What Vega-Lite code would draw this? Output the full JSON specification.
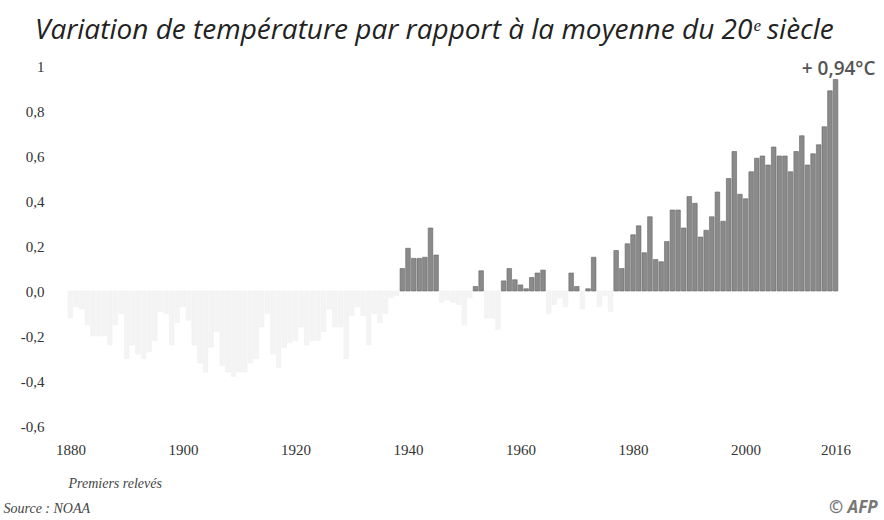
{
  "$schema": "https://vega.github.io/schema/vega-lite/v6.json",
  "width": 792,
  "height": 360,
  "autosize": {"type": "none"},
  "padding": {"left": 57, "top": 66, "right": 35, "bottom": 94},
  "background": "white",
  "config": {"view": {"stroke": null}},
  "title": {
    "text": "Variation de température par rapport à la moyenne du 20ᵉ siècle",
    "anchor": "start",
    "frame": "group",
    "dx": -22,
    "offset": 14,
    "font": "Open Sans",
    "fontStyle": "italic",
    "fontWeight": "normal",
    "fontSize": 28,
    "color": "#222222"
  },
  "data": {
    "values": [
      {"year": 1880, "value": -0.12}, {"year": 1881, "value": -0.07}, {"year": 1882, "value": -0.08}, {"year": 1883, "value": -0.15},
      {"year": 1884, "value": -0.2}, {"year": 1885, "value": -0.2}, {"year": 1886, "value": -0.2}, {"year": 1887, "value": -0.24},
      {"year": 1888, "value": -0.15}, {"year": 1889, "value": -0.1}, {"year": 1890, "value": -0.3}, {"year": 1891, "value": -0.24},
      {"year": 1892, "value": -0.28}, {"year": 1893, "value": -0.3}, {"year": 1894, "value": -0.27}, {"year": 1895, "value": -0.22},
      {"year": 1896, "value": -0.09}, {"year": 1897, "value": -0.1}, {"year": 1898, "value": -0.24}, {"year": 1899, "value": -0.14},
      {"year": 1900, "value": -0.07}, {"year": 1901, "value": -0.13}, {"year": 1902, "value": -0.24}, {"year": 1903, "value": -0.32},
      {"year": 1904, "value": -0.36}, {"year": 1905, "value": -0.25}, {"year": 1906, "value": -0.18}, {"year": 1907, "value": -0.33},
      {"year": 1908, "value": -0.36}, {"year": 1909, "value": -0.38}, {"year": 1910, "value": -0.36}, {"year": 1911, "value": -0.36},
      {"year": 1912, "value": -0.32}, {"year": 1913, "value": -0.3}, {"year": 1914, "value": -0.16}, {"year": 1915, "value": -0.1},
      {"year": 1916, "value": -0.28}, {"year": 1917, "value": -0.34}, {"year": 1918, "value": -0.25}, {"year": 1919, "value": -0.23},
      {"year": 1920, "value": -0.22}, {"year": 1921, "value": -0.16}, {"year": 1922, "value": -0.24}, {"year": 1923, "value": -0.22},
      {"year": 1924, "value": -0.22}, {"year": 1925, "value": -0.18}, {"year": 1926, "value": -0.08}, {"year": 1927, "value": -0.16},
      {"year": 1928, "value": -0.16}, {"year": 1929, "value": -0.3}, {"year": 1930, "value": -0.11}, {"year": 1931, "value": -0.07},
      {"year": 1932, "value": -0.11}, {"year": 1933, "value": -0.24}, {"year": 1934, "value": -0.1}, {"year": 1935, "value": -0.14},
      {"year": 1936, "value": -0.1}, {"year": 1937, "value": -0.03}, {"year": 1938, "value": -0.02},
      {"year": 1939, "value": 0.1}, {"year": 1940, "value": 0.19}, {"year": 1941, "value": 0.145}, {"year": 1942, "value": 0.145},
      {"year": 1943, "value": 0.15}, {"year": 1944, "value": 0.28}, {"year": 1945, "value": 0.16},
      {"year": 1946, "value": -0.05}, {"year": 1947, "value": -0.04}, {"year": 1948, "value": -0.05}, {"year": 1949, "value": -0.06},
      {"year": 1950, "value": -0.15}, {"year": 1951, "value": -0.03}, {"year": 1952, "value": 0.02}, {"year": 1953, "value": 0.09},
      {"year": 1954, "value": -0.12}, {"year": 1955, "value": -0.12}, {"year": 1956, "value": -0.17},
      {"year": 1957, "value": 0.045}, {"year": 1958, "value": 0.1}, {"year": 1959, "value": 0.05}, {"year": 1960, "value": 0.027},
      {"year": 1961, "value": 0.01}, {"year": 1962, "value": 0.06}, {"year": 1963, "value": 0.08}, {"year": 1964, "value": 0.093},
      {"year": 1965, "value": -0.1}, {"year": 1966, "value": -0.06}, {"year": 1967, "value": -0.03}, {"year": 1968, "value": -0.07},
      {"year": 1969, "value": 0.08}, {"year": 1970, "value": 0.02}, {"year": 1971, "value": -0.08}, {"year": 1972, "value": 0.01},
      {"year": 1973, "value": 0.15}, {"year": 1974, "value": -0.07}, {"year": 1975, "value": -0.02}, {"year": 1976, "value": -0.09},
      {"year": 1977, "value": 0.18}, {"year": 1978, "value": 0.1}, {"year": 1979, "value": 0.21}, {"year": 1980, "value": 0.25},
      {"year": 1981, "value": 0.29}, {"year": 1982, "value": 0.17}, {"year": 1983, "value": 0.33}, {"year": 1984, "value": 0.14},
      {"year": 1985, "value": 0.13}, {"year": 1986, "value": 0.22}, {"year": 1987, "value": 0.36}, {"year": 1988, "value": 0.36},
      {"year": 1989, "value": 0.28}, {"year": 1990, "value": 0.42}, {"year": 1991, "value": 0.39}, {"year": 1992, "value": 0.24},
      {"year": 1993, "value": 0.27}, {"year": 1994, "value": 0.33}, {"year": 1995, "value": 0.44}, {"year": 1996, "value": 0.31},
      {"year": 1997, "value": 0.5}, {"year": 1998, "value": 0.62}, {"year": 1999, "value": 0.43}, {"year": 2000, "value": 0.41},
      {"year": 2001, "value": 0.53}, {"year": 2002, "value": 0.59}, {"year": 2003, "value": 0.6}, {"year": 2004, "value": 0.56},
      {"year": 2005, "value": 0.64}, {"year": 2006, "value": 0.6}, {"year": 2007, "value": 0.6}, {"year": 2008, "value": 0.53},
      {"year": 2009, "value": 0.62}, {"year": 2010, "value": 0.69}, {"year": 2011, "value": 0.56}, {"year": 2012, "value": 0.61},
      {"year": 2013, "value": 0.65}, {"year": 2014, "value": 0.73}, {"year": 2015, "value": 0.89}, {"year": 2016, "value": 0.94}
    ]
  },
  "layer": [
    {
      "mark": {"type": "bar", "size": 4.6, "strokeWidth": 0.6},
      "encoding": {
        "x": {
          "field": "year",
          "type": "quantitative",
          "scale": {"domain": [1878.5, 2017.5], "nice": false, "zero": false},
          "axis": {
            "values": [1880, 1900, 1920, 1940, 1960, 1980, 2000, 2016],
            "format": "d",
            "domain": false,
            "ticks": false,
            "grid": false,
            "labelPadding": 16,
            "labelFont": "Liberation Serif",
            "labelFontSize": 15,
            "labelColor": "#333333",
            "title": "Premiers relevés",
            "titleFont": "Liberation Serif",
            "titleFontStyle": "italic",
            "titleFontWeight": "normal",
            "titleFontSize": 14,
            "titleColor": "#444444",
            "titleAnchor": "start",
            "titleAlign": "left",
            "titleX": 11,
            "titleY": 50
          }
        },
        "y": {
          "field": "value",
          "type": "quantitative",
          "scale": {"domain": [-0.6, 1], "nice": false},
          "axis": {
            "values": [-0.6, -0.4, -0.2, 0, 0.2, 0.4, 0.6, 0.8, 1],
            "labelExpr": "datum.value == 1 ? '1' : replace(replace(format(datum.value, '.1f'), '.', ','), '−', '-')",
            "domain": false,
            "ticks": false,
            "grid": false,
            "labelPadding": 13,
            "labelFont": "Liberation Serif",
            "labelFontSize": 15,
            "labelColor": "#333333",
            "title": "Source : NOAA",
            "titleAngle": 0,
            "titleAlign": "left",
            "titleBaseline": "middle",
            "titleX": -54,
            "titleY": 442,
            "titleFont": "Liberation Serif",
            "titleFontStyle": "italic",
            "titleFontWeight": "normal",
            "titleFontSize": 14,
            "titleColor": "#444444"
          }
        },
        "fill": {
          "condition": {"test": "datum.value >= 0", "value": "#8a8a8a"},
          "value": "#f4f4f4"
        },
        "stroke": {
          "condition": {"test": "datum.value >= 0", "value": "#666666"},
          "value": "#f0f0f0"
        }
      }
    },
    {
      "transform": [{"filter": "datum.year == 2016"}],
      "mark": {"type": "text", "align": "right", "baseline": "middle", "dx": 40, "dy": -11, "font": "Open Sans", "fontWeight": 600, "fontSize": 19, "color": "#555555"},
      "encoding": {
        "x": {"field": "year", "type": "quantitative"},
        "y": {"field": "value", "type": "quantitative"},
        "text": {"value": "+ 0,94°C"}
      }
    },
    {
      "transform": [{"filter": "datum.year == 2016"}],
      "mark": {"type": "text", "align": "right", "baseline": "middle", "dx": 42, "dy": 82, "font": "Open Sans", "fontWeight": "bold", "fontStyle": "italic", "fontSize": 17, "color": "#777777"},
      "encoding": {
        "x": {"field": "year", "type": "quantitative"},
        "y": {"datum": -0.6},
        "text": {"value": "© AFP"}
      }
    }
  ]
}
